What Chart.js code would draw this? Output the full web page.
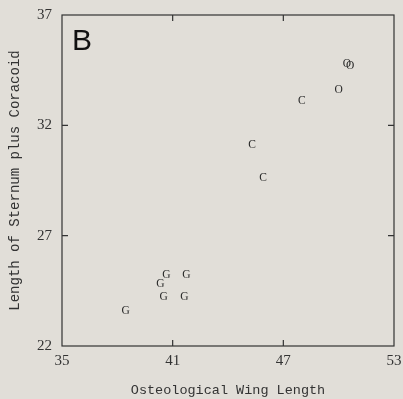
<!DOCTYPE html>
<html><head><meta charset="utf-8">
<script src="https://cdn.jsdelivr.net/npm/chart.js@4"></script>
<style>html,body{margin:0;padding:0;background:#e1ded8;}#wrap{width:403px;height:399px;}</style>
</head><body><div id="wrap"><canvas id="c" width="403" height="399"></canvas></div>
<script>
const groupLetters = ['G', 'C', 'O'];
const wingG = [38.45, 40.33, 40.66, 41.74, 40.51, 41.63];
const sternG = [23.6, 24.8, 25.2, 25.2, 24.2, 24.2];
const wingC = [45.3, 45.9, 48.0];
const sternC = [31.1, 29.6, 33.1];
const wingO = [50.0, 50.44, 50.62];
const sternO = [33.6, 34.8, 34.7];
const xTicks = [35, 41, 47, 53];
const yTicks = [22, 27, 32, 37];
const panelLabel = 'B';

const toPts = (xs, ys) => xs.map((x, i) => ({x, y: ys[i]}));

const letterPlugin = {
  id: 'letters',
  afterDatasetsDraw(chart) {
    const ctx = chart.ctx;
    const {left, right, top, bottom} = chart.chartArea;
    ctx.save();
    ctx.strokeStyle = '#333';
    ctx.lineWidth = 1.2;
    ctx.strokeRect(left, top, right - left, bottom - top);
    const xs = chart.scales.x, ys = chart.scales.y;
    ctx.beginPath();
    xTicks.slice(1, -1).forEach(v => {
      const px = xs.getPixelForValue(v);
      ctx.moveTo(px, bottom); ctx.lineTo(px, bottom - 6);
      ctx.moveTo(px, top); ctx.lineTo(px, top + 6);
    });
    yTicks.slice(1, -1).forEach(v => {
      const py = ys.getPixelForValue(v);
      ctx.moveTo(left, py); ctx.lineTo(left + 6, py);
      ctx.moveTo(right, py); ctx.lineTo(right - 6, py);
    });
    ctx.stroke();
    ctx.fillStyle = '#2a2a2a';
    ctx.font = '11.5px "Liberation Serif"';
    ctx.textAlign = 'center';
    ctx.textBaseline = 'middle';
    chart.data.datasets.forEach((ds, i) => {
      const meta = chart.getDatasetMeta(i);
      meta.data.forEach(el => ctx.fillText(ds.label, el.x, el.y));
    });
    ctx.font = '30px "Liberation Sans"';
    ctx.fillStyle = '#111';
    ctx.textAlign = 'left';
    ctx.textBaseline = 'alphabetic';
    ctx.fillText(panelLabel, left + 10, top + 35);
    ctx.restore();
  }
};

new Chart(document.getElementById('c'), {
  type: 'scatter',
  data: {
    datasets: [
      {label: groupLetters[0], data: toPts(wingG, sternG)},
      {label: groupLetters[1], data: toPts(wingC, sternC)},
      {label: groupLetters[2], data: toPts(wingO, sternO)}
    ].map(d => Object.assign(d, {pointRadius: 0, pointHoverRadius: 0, pointStyle: false}))
  },
  options: {
    responsive: false,
    animation: false,
    events: [],
    layout: {padding: {top: 15, right: 9, left: 0, bottom: 0}},
    plugins: {legend: {display: false}, tooltip: {enabled: false}},
    scales: {
      x: {
        type: 'linear', min: 35, max: 53,
        afterBuildTicks: s => { s.ticks = xTicks.map(v => ({value: v})); },
        afterFit: s => { s.height = 53; s.paddingLeft = 0; s.paddingRight = 0; },
        grid: {display: false, drawTicks: false},
        border: {display: false},
        ticks: {color: '#333', font: {family: 'Liberation Serif', size: 15}, padding: 6, maxRotation: 0, autoSkip: false},
        title: {display: true, text: 'Osteological Wing Length', color: '#333', font: {family: 'Liberation Mono', size: 13.5}, padding: {top: 4, bottom: 0}}
      },
      y: {
        type: 'linear', min: 22, max: 37,
        afterBuildTicks: s => { s.ticks = yTicks.map(v => ({value: v})); },
        afterFit: s => { s.width = 62; s.paddingTop = 0; s.paddingBottom = 0; },
        grid: {display: false, drawTicks: false},
        border: {display: false},
        ticks: {color: '#333', font: {family: 'Liberation Serif', size: 15}, padding: 10, autoSkip: false},
        title: {display: true, text: 'Length of Sternum plus Coracoid', color: '#333', font: {family: 'Liberation Mono', size: 14}, padding: {top: 7, bottom: 0}}
      }
    }
  },
  plugins: [letterPlugin]
});
</script>
</body></html>
